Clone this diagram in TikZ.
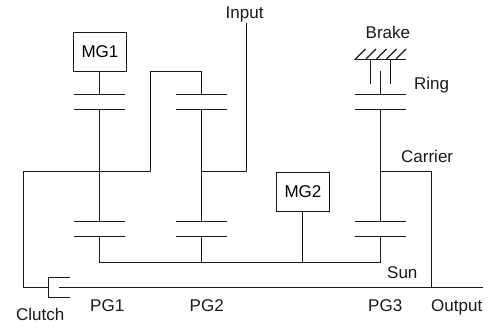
\documentclass[tikz,border=0pt]{standalone}
\usepackage{fontspec}
\setmainfont{Liberation Sans}
\tikzset{
  px/.style={x=1pt,y=-1pt},
  shaft/.style={draw=black!90,line width=1.3pt},
  motor/.style={draw=black!90,line width=1.3pt,minimum width=53pt,minimum height=39pt,inner sep=0pt,outer sep=0pt,font=\fontsize{17}{19}\selectfont},
  lab/.style={inner sep=0pt,font=\fontsize{17}{19}\selectfont,text=black!90,anchor=base west}
}
\begin{document}
\begin{tikzpicture}[px]
\useasboundingbox (0,0) rectangle (491,329);
% motors
\node[motor] (mg1) at (100,52) {MG1};
\node[motor] (mg2) at (303,192) {MG2};
% gear plates
\foreach \n/\x in {a/99.5,b/201.5,c/380.5}{
  \coordinate (\n1l) at (\x-26,94.5); \coordinate (\n1r) at (\x+25.7,94.5); \coordinate (\n1) at (\x,94.5);
  \coordinate (\n2l) at (\x-26,109.5); \coordinate (\n2r) at (\x+25.7,109.5); \coordinate (\n2) at (\x,109.5);
  \coordinate (\n3l) at (\x-26,221.5); \coordinate (\n3r) at (\x+25.7,221.5); \coordinate (\n3) at (\x,221.5);
  \coordinate (\n4l) at (\x-26,236.5); \coordinate (\n4r) at (\x+25.7,236.5); \coordinate (\n4) at (\x,236.5);
  \coordinate (\n5) at (\x,262.5);
  \coordinate (\n6) at (\x,171.5);
  \draw[shaft] (\n1l) -- (\n1r);
  \draw[shaft] (\n2l) -- (\n2r);
  \draw[shaft] (\n3l) -- (\n3r);
  \draw[shaft] (\n4l) -- (\n4r);
  \draw[shaft] (\n2) -- (\n3);
  \draw[shaft] (\n4) -- (\n5);
}
% PG1
\draw[shaft] (mg1.south -| a1) -- (a1);
% clutch
\coordinate (cl) at (49,287.5);
\coordinate (clt) at (48.5,277.5);
\coordinate (clb) at (48.5,297.5);
\draw[shaft] (70,277.5) -- (clt) -- (clb) -- (70,297.5);
% PG2 top loop
\coordinate (lt) at (150.5,71.5);
\coordinate (lb) at (150.5,171.5);
\coordinate (sl) at (23.5,171.5);
\coordinate (sb) at (23.5,287.5);
\draw[shaft] (b1) -- (lt -| b1) -- (lt) -- (lb) -- (sl) -- (sb) -- (cl);
% input
\coordinate (in) at (246.5,23);
\draw[shaft] (in) -- (246.5,171.5) -- (b6);
% output shaft
\coordinate (os) at (59,287.5);
\coordinate (oe) at (483,287.5);
\draw[shaft] (os) -- (oe);
% sun bus
\draw[shaft] (a5) -- (c5);
\coordinate (m2s) at (302.5,212);
\draw[shaft] (m2s) -- (m2s |- a5);
% carrier
\coordinate (cc) at (431.5,171.5);
\draw[shaft] (c6) -- (cc) -- (oe -| cc);
% ring & brake
\coordinate (rt) at (380.5,71);
\draw[shaft] (rt) -- (c1);
\coordinate (gl) at (354,59.5);
\coordinate (gr) at (406,59.5);
\draw[shaft] (gl) -- (gr);
\draw[shaft] (370.5,59.5) -- (370.5,84.5);
\draw[shaft] (390.5,59.5) -- (390.5,84.5);
\foreach \x in {355.5,366,376.5,386.5,396}{
  \draw[draw=black!90,line width=1.1pt] (\x,59) -- (\x+10,49);
}
% labels
\node[lab] at (225.5,19) {Input};
\node[lab] at (365.5,39) {Brake};
\node[lab] at (414,90) {Ring};
\node[lab] at (401,163) {Carrier};
\node[lab] at (387,278.5) {Sun};
\node[lab] at (431,311) {Output};
\node[lab] at (368,311) {PG3};
\node[lab] at (189.5,311) {PG2};
\node[lab] at (90,311) {PG1};
\node[lab] at (16,320) {Clutch};
\end{tikzpicture}
\end{document}
